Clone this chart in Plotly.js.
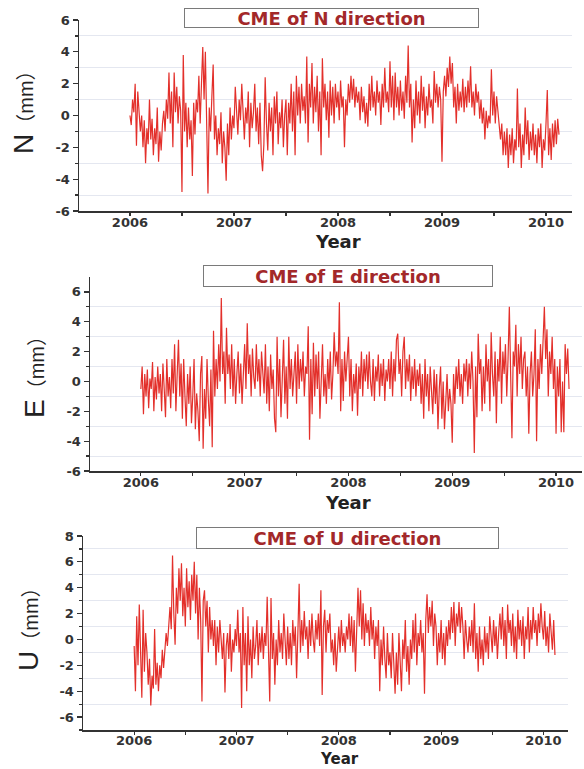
<!DOCTYPE html>
<html>
<head>
<meta charset="utf-8">
<script src="https://cdn.plot.ly/plotly-3.0.1.min.js"></script>
<style>
html,body{margin:0;padding:0;background:#fff;}
#chart{width:584px;height:769px;}
</style>
</head>
<body>
<div id="chart"></div>
<script>
// Time sampling of the series (decimal years)
const startYear = 2006.0;
const stepYears = 0.0125;

// CME of N direction (mm)
const nValues = [
  0.0, -0.6, 1.0, 0.2, 2.0, -1.9, 1.5, 0.5,
  -1.0, 0.0, -2.0, -0.3, -3.0, -0.8, -1.8, 1.0,
  -1.5, -0.2, -2.5, -0.8, -1.8, 0.5, -2.9, -1.0,
  -2.2, -0.5, 0.3, -1.0, 1.0, -0.2, 2.7, -0.5,
  1.5, -2.0, 2.7, 0.2, 1.8, -0.5, 1.2, 0.3,
  -4.8, 3.8, -1.0, 0.8, -2.0, 0.5, -1.5, -0.3,
  -3.8, 0.8, -1.2, 1.0, 0.2, 2.5, -0.5, 2.0,
  4.3, 1.0, 4.0, -0.5, -4.9, 0.5, -1.0, 1.2,
  3.2, -1.5, 0.0, -2.5, -0.8, -1.8, 0.2, -3.0,
  -1.0, -2.0, -4.1, -0.5, -2.5, 0.5, -1.5, 0.0,
  -0.8, 1.8, 0.2, -1.2, 1.0, -0.3, 2.0, 0.5,
  -1.5, 0.5, -0.5, 1.5, -2.0, 0.8, -0.8, 0.2,
  2.0, -1.0, 0.5, -1.8, 0.8, -2.5, -3.5, -1.8,
  2.4, -0.5, -2.2, 0.8, -1.0, 0.5, -2.5, 1.2,
  -0.5, 1.5, -1.8, 0.2, -0.8, 1.0, -2.0, 0.0,
  1.0, -2.5, 0.8, -0.5, 2.0, -1.0, 1.5, -2.5,
  2.5, 0.0, 1.8, -0.5, 2.0, 0.3, 1.2, -0.5,
  3.7, -1.7, 2.0, 0.5, 3.3, -0.5, 1.8, 0.2,
  2.5, -1.0, 1.5, -2.5, 3.6, 0.5, 2.0, -0.3,
  1.5, -1.4, 2.2, 0.0, 1.8, -0.5, 2.0, 0.5,
  1.5, -0.3, 2.2, 0.5, 1.2, -2.0, 1.0, 0.0,
  2.0, 0.8, 2.5, 1.0, 2.3, 0.5, 1.8, 0.8,
  1.5, -0.3, 1.8, 0.2, 1.2, -0.5, 0.8, -0.7,
  2.0, 0.3, 2.5, 0.5, 1.5, 0.0, 2.2, 0.8,
  1.5, -0.6, 2.0, 0.5, 3.0, 0.8, 1.5, 0.2,
  3.4, 0.5, 2.5, -0.3, 2.7, 0.5, 1.8, 0.0,
  2.2, 0.3, 1.5, -0.2, 2.5, 0.8, 4.4, 0.5,
  2.0, -1.7, 1.0, -0.8, 2.2, 0.0, 1.5, -0.5,
  2.5, 0.3, 1.8, -0.8, 1.2, 0.0, 2.0, 0.5,
  1.0, -0.5, 2.8, 0.8, 2.0, 0.5, 1.8, 1.0,
  -2.9, 1.5, 2.5, 1.2, 3.0, 1.8, 3.7, 2.0,
  3.3, 0.5, 1.8, -0.5, 2.0, 0.3, 1.5, 0.5,
  2.3, 0.2, 1.8, 0.5, 2.2, 0.8, 3.1, 0.5,
  1.5, 0.0, 2.0, 0.8, 1.5, -0.2, 1.0, -0.5,
  0.5, -1.5, 0.3, -0.8, 0.0, -0.5, 2.9, 0.0,
  1.5, -0.5, 1.2, 0.3, -0.5, -1.5, -0.5, -2.5,
  -1.0, -2.5, -0.8, -3.3, -1.2, -2.5, -0.8, -3.0,
  -1.5, -2.2, 1.7, -2.0, -0.5, -3.3, -1.2, -2.5,
  0.5, -1.8, -0.3, -2.8, -1.0, -2.2, -0.5, -2.5,
  -1.2, -3.0, -0.8, -2.0, -0.5, -3.3, -1.5, -2.2,
  -0.5, 1.6, -2.5, -0.8, -2.8, -0.5, -2.0, -0.3,
  -1.8, -0.2, -1.2
];

// CME of E direction (mm)
const eValues = [
  -0.5, 1.0, -2.2, 0.5, -1.0, 0.8, -1.8, 0.2,
  -0.5, 1.3, -2.0, 0.3, -1.2, 1.0, -0.8, 0.5,
  -2.0, 1.2, -0.5, -2.4, 1.5, -1.0, 0.3, -1.8,
  1.5, -0.8, 2.5, -2.0, 0.5, 2.8, -1.0, 1.2,
  -2.5, 1.5, -1.0, -3.0, 0.5, -1.5, 1.0, -2.8,
  -1.0, 1.5, -3.2, -0.8, -2.0, -4.0, 0.5, 1.7,
  -4.5, -0.5, -2.5, 1.5, -1.2, -3.0, 0.8, -4.4,
  3.4, -1.0, 1.5, -0.5, 2.5, 0.0, 5.6, 0.5,
  2.0, -1.5, 3.6, 0.5, 1.8, -0.5, 2.5, -1.0,
  1.5, -1.5, 0.5, 2.0, -0.8, 1.2, -1.5, 0.8,
  2.5, -0.5, 3.9, 0.5, 1.8, -1.0, 2.2, 0.3,
  -0.5, 2.5, 0.0, 1.5, -1.0, 2.0, 0.5, -0.8,
  2.5, -1.5, 1.0, -2.0, 1.8, -0.5, 0.8, -2.5,
  -3.4, 3.0, -1.0, 1.5, -2.4, 0.5, 2.8, -1.5,
  1.0, -2.5, 3.0, -0.5, 1.5, -1.0, 0.5, 2.0,
  -1.5, 2.5, -0.5, 1.5, 0.0, 2.0, -1.0, 1.0,
  0.5, 3.7, -3.9, 1.5, -2.2, 2.6, -1.0, 1.8,
  -0.5, 2.0, -2.5, 1.0, 2.5, -1.0, 0.5, -1.5,
  1.5, -0.5, 2.0, -1.2, 0.5, 3.3, 1.0, 2.0,
  0.5, 5.3, -2.0, 1.5, -1.3, 2.0, 0.0, 1.5,
  3.0, -1.0, 1.5, -2.0, 0.5, -0.8, 1.2, -2.3,
  1.0, -0.5, 2.0, -1.0, 1.5, 0.0, 1.8, -0.5,
  2.0, 0.0, -1.0, 1.5, -1.3, 1.0, 0.0, 1.8,
  -1.0, 1.2, -0.3, 1.5, -1.3, 0.8, 0.0, 1.5,
  -0.5, 2.0, -1.0, 1.5, 0.0, 2.8, 3.2, 0.5,
  1.5, -1.0, 2.0, 3.0, -0.5, 1.5, 0.0, 1.8,
  -1.3, 1.0, -0.5, 1.5, -1.0, 0.8, -0.3, 1.2,
  -1.5, 0.5, -2.5, 1.5, -1.0, 0.5, -2.0, 1.0,
  -0.5, -2.2, 0.8, -1.5, 0.5, -3.2, -0.5, 1.0,
  -2.5, 0.0, -3.2, -1.0, 0.5, -2.0, -0.5, -1.5,
  -4.1, 0.5, -1.5, 1.0, -0.5, 1.5, -1.0, 0.5,
  -1.5, 1.2, 0.0, 1.5, -1.0, 1.2, -0.5, 2.0,
  0.0, -4.8, 1.0, -2.4, 3.2, 0.5, 1.5, -2.0,
  1.0, -1.5, 2.5, 0.0, 1.5, -2.0, 3.3, 0.5,
  -1.0, 2.0, -2.8, 1.5, 0.0, 3.0, -1.5, 2.0,
  0.5, 2.5, -1.0, 1.5, 5.0, 0.5, -3.8, 2.0,
  1.0, 3.8, -1.0, 2.5, 0.5, 3.0, -0.5, 1.5,
  2.0, -1.0, 1.0, -3.5, 0.5, 2.0, -1.0, 0.5,
  3.5, -4.0, 1.5, -0.5, 2.5, 0.5, 3.0, 5.0,
  1.5, 3.5, -1.0, 2.0, 0.5, 3.0, -0.5, 1.5,
  -3.5, 1.0, -1.0, 1.5, -3.4, 0.0, -3.4, 2.5,
  0.5, 2.2, -0.5
];

// CME of U direction (mm)
const uValues = [
  -0.5, -4.0, 1.8, -2.0, 2.7, -1.5, -4.5, 2.3,
  -2.5, 0.5, -1.0, -3.5, -1.5, -5.1, -2.8, -3.8,
  0.8, -3.5, -1.8, -4.0, -2.0, -3.0, -0.8, -2.2,
  -1.0, 0.5, -0.5, 1.5, 2.5, 0.8, 6.5, 2.0,
  -0.4, 4.0, 2.0, 5.5, 3.0, 5.9, 1.8, 4.0,
  1.0, 5.5, 2.5, 4.5, 1.5, 5.0, 3.0, 6.0,
  2.0, 5.0, 0.0, 4.0, 1.5, -4.8, 3.0, 3.8,
  1.0, 3.0, -1.0, 2.5, 0.0, 1.5, -0.5, 1.5,
  -2.0, 1.0, -1.0, 1.5, 0.0, -1.5, 0.5, -4.1,
  -0.5, 0.5, -1.5, 1.2, -2.5, 0.0, -1.0, 0.8,
  -0.5, 2.3, -1.0, 0.5, -5.3, 2.5, -2.0, 0.5,
  -4.0, 1.8, -2.0, 0.0, -3.0, 1.0, -1.5, -0.5,
  1.5, -2.0, 0.5, -1.0, 1.0, -1.5, 0.5, -0.5,
  3.3, -1.0, -4.8, 3.2, -1.5, 0.5, -3.5, 0.0,
  -2.0, 1.5, -1.0, 0.5, -1.5, 2.0, -0.5, -2.0,
  1.0, -1.5, 0.5, -2.0, 1.5, -0.5, 1.0, -3.0,
  0.5, 4.3, -1.0, 1.5, -0.5, 2.2, 0.0, 1.0,
  -1.5, 1.5, -0.5, 2.0, 0.0, -1.0, 1.5, 0.0,
  2.0, -0.5, 3.8, -4.3, 1.0, 2.3, -1.0, 1.5,
  0.5, 2.0, -1.0, 0.0, -2.0, 0.5, -2.5, -0.5,
  1.0, -1.0, 1.5, -0.5, 0.5, -1.0, 1.0, 0.0,
  2.0, -0.5, 1.8, -1.0, 1.5, -2.5, 0.5, 4.0,
  1.0, 3.8, 0.0, 2.8, -0.5, 2.0, 0.5, 1.5,
  -0.5, 2.5, 0.0, 1.5, -1.5, 1.0, -0.5, 1.5,
  -4.0, 0.0, -2.0, 1.0, -1.5, -3.0, 0.5, -2.0,
  -1.0, -3.0, 0.5, -1.5, -4.2, -1.0, -3.5, 0.5,
  -2.0, -4.0, 0.0, -1.5, 1.5, -2.5, -0.5, -3.5,
  0.0, -1.5, 1.5, -1.0, 2.0, -2.0, 0.5, -0.5,
  1.5, -1.0, 0.5, -4.2, 1.5, 3.5, 0.5, 2.5,
  1.0, 3.0, -0.5, 2.0, 1.0, -2.0, 0.5, -1.0,
  1.5, -1.5, 0.5, -2.0, 1.0, -0.5, 1.5, 0.0,
  2.5, 0.5, 2.9, -0.5, 2.0, 1.0, 2.9, 0.5,
  2.5, 1.0, -1.5, 1.5, 0.0, -1.0, 1.0, -0.5,
  1.5, -1.0, 2.8, -1.5, 0.5, -2.5, 1.0, -1.5,
  0.0, -2.0, 1.0, -1.0, 0.5, -1.5, 1.8, 0.0,
  -1.0, 1.5, -0.5, 1.0, -1.5, 0.5, 2.0, 0.0,
  2.5, -0.5, 1.5, -1.5, 2.7, 0.5, 1.5, -0.5,
  2.0, -1.0, 1.0, -1.5, 2.3, 0.0, 1.5, -0.5,
  1.8, -1.5, 1.0, 0.0, 2.5, -1.0, 1.5, 0.0,
  2.5, 0.5, 1.5, -0.5, 2.0, 0.5, 2.8, 1.0,
  0.0, 2.2, -0.5, 1.0, -1.0, 2.0, 0.5, -0.8,
  1.5, -1.2
];

// Tick labels
const yearTicks = [2006, 2007, 2008, 2009, 2010];
const yearLabels = ["2006", "2007", "2008", "2009", "2010"];
const halfYearTicks = [2006.5, 2007.5, 2008.5, 2009.5];
const nTicks = [-6, -4, -2, 0, 2, 4, 6];
const nLabels = ["-6", "-4", "-2", "0", "2", "4", "6"];
const eTicks = [-6, -4, -2, 0, 2, 4, 6];
const eLabels = ["-6", "-4", "-2", "0", "2", "4", "6"];
const uTicks = [-6, -4, -2, 0, 2, 4, 6, 8];
const uLabels = ["-6", "-4", "-2", "0", "2", "4", "6", "8"];
const nMinor = [-5, -3, -1, 1, 3, 5];
const eMinor = [-5, -3, -1, 1, 3, 5];
const uMinor = [-7, -5, -3, -1, 1, 3, 5, 7];

// Texts
const panelTitles = ["CME of N direction", "CME of E direction", "CME of U direction"];
const axisNames = ["N", "E", "U"];
const xTitle = "Year";

const toX = arr => arr.map((_, i) => +(startYear + i * stepYears).toFixed(4));

const lineColor = "#e3302b";
function trace(vals, xa, ya) {
  return {x: toX(vals), y: vals, xaxis: xa, yaxis: ya, type: "scatter", mode: "lines",
    line: {color: lineColor, width: 1.2}, hoverinfo: "skip"};
}

const tickFont = {family: "DejaVu Sans, Arial, sans-serif", size: 13, color: "#333", weight: "bold"};
function xAxis(domain, anchor, standoff) {
  return {domain: domain, anchor: anchor, range: [2005.51, 2010.25],
    tickmode: "array", tickvals: yearTicks, ticktext: yearLabels,
    ticks: "outside", ticklen: 3, tickwidth: 1.2, tickcolor: "#333", ticklabelstandoff: standoff,
    showline: true, linecolor: "#333", linewidth: 1.5,
    showgrid: false, zeroline: false, tickfont: tickFont,
    minor: {tickmode: "array", tickvals: halfYearTicks, ticks: "outside", ticklen: 3, tickcolor: "#333", showgrid: false}};
}
function yAxis(domain, anchor, range, tv, tt, minor) {
  return {domain: domain, anchor: anchor, range: range,
    tickmode: "array", tickvals: tv, ticktext: tt,
    ticks: "outside", ticklen: 5, tickwidth: 1.2, tickcolor: "#333",
    showline: true, linecolor: "#333", linewidth: 1.5,
    showgrid: false, zeroline: false, tickfont: tickFont,
    minor: {tickmode: "array", tickvals: minor, ticks: "outside", ticklen: 3, tickcolor: "#333",
      showgrid: true, gridcolor: "#e4e7f0", gridwidth: 1}};
}

const W = 584, H = 769;
const px = v => v / W, py = v => 1 - v / H;

function titleBox(text, cx, cy, w, h) {
  return {text: text, xref: "paper", yref: "paper", x: px(cx), y: py(cy), xanchor: "center", yanchor: "middle",
    showarrow: false, width: w, height: h, bordercolor: "#7a7a7a", borderwidth: 1, borderpad: 1, bgcolor: "#fff",
    font: {family: "DejaVu Sans, Arial, sans-serif", size: 18, color: "#a3282a", weight: "bold"}};
}
function yTitle(name, cx, cy) {
  return {text: name + '<span style="font-size:20px">（mm）</span>', xref: "paper", yref: "paper",
    x: px(cx), y: py(cy), xanchor: "center", yanchor: "middle", textangle: -90, showarrow: false,
    font: {family: "Liberation Sans, Noto Sans CJK SC, sans-serif", size: 28, color: "#222"}};
}
function yearTitle(cx, cy, size, anchor) {
  return {text: xTitle, xref: "paper", yref: "paper", x: px(cx), y: py(cy), xanchor: "center", yanchor: anchor,
    showarrow: false, borderpad: 0, font: {family: "DejaVu Sans, Arial, sans-serif", size: size, color: "#222", weight: "bold"}};
}

const data = [trace(nValues, "x", "y"), trace(eValues, "x2", "y2"), trace(uValues, "x3", "y3")];

const layout = {
  width: W, height: H, margin: {l: 0, r: 0, t: 0, b: 0},
  paper_bgcolor: "#fff", plot_bgcolor: "rgba(0,0,0,0)", showlegend: false,
  xaxis: xAxis([px(79), px(572)], "y", -4),
  yaxis: yAxis([py(211), py(20)], "x", [-6, 6], nTicks, nLabels, nMinor),
  xaxis2: xAxis([px(90), px(582)], "y2", -4),
  yaxis2: yAxis([py(471), py(277)], "x2", [-6, 7], eTicks, eLabels, eMinor),
  xaxis3: Object.assign(xAxis([px(83), px(568)], "y3", -5), {range: [2005.50, 2010.24]}),
  yaxis3: yAxis([py(730), py(536)], "x3", [-7, 8], uTicks, uLabels, uMinor),
  annotations: [
    titleBox(panelTitles[0], 331.5, 18, 291, 16),
    titleBox(panelTitles[1], 348, 276, 286, 18),
    titleBox(panelTitles[2], 347.5, 538, 299, 18),
    yTitle(axisNames[0], 24, 107),
    yTitle(axisNames[1], 34, 372),
    yTitle(axisNames[2], 28, 624),
    yearTitle(338, 241, 18, "middle"),
    yearTitle(348, 502, 18, "middle"),
    yearTitle(339, 769, 15, "bottom")
  ]
};

Plotly.newPlot("chart", data, layout, {staticPlot: true, displayModeBar: false});
</script>
</body>
</html>
